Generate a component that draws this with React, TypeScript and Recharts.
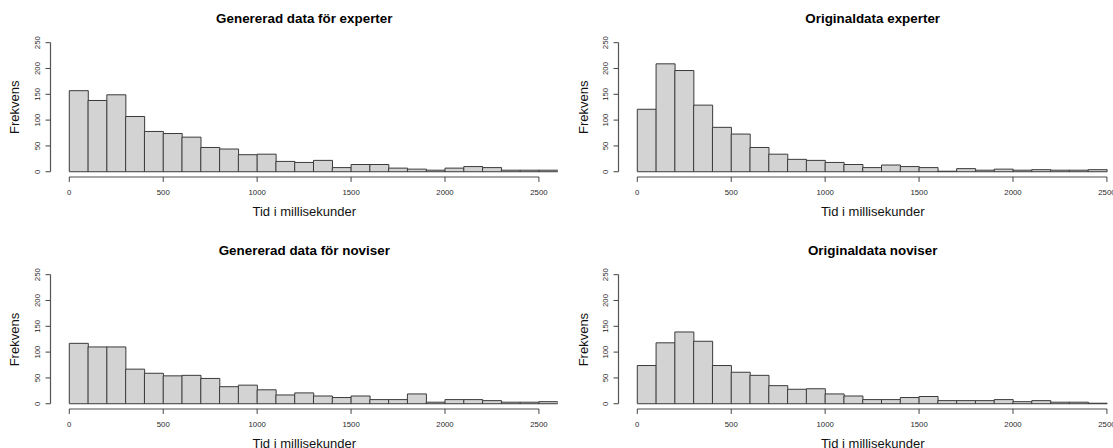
import React from 'react';
import { BarChart, Bar, XAxis, YAxis, ReferenceLine } from 'recharts';

// Histogram bins: left edge of each 100 ms bin
const binStarts = [
  0, 100, 200, 300, 400, 500, 600, 700, 800, 900, 1000, 1100, 1200,
  1300, 1400, 1500, 1600, 1700, 1800, 1900, 2000, 2100, 2200, 2300, 2400, 2500,
];
const binWidth = 100;

const xTicks = [0, 500, 1000, 1500, 2000, 2500];
const yTicks = [0, 50, 100, 150, 200, 250];

// Frequencies per bin
const genExperts = [157, 138, 149, 107, 78, 74, 67, 47, 44, 33, 34, 20, 18, 22, 8, 14, 14, 7, 5, 3, 7, 10, 8, 3, 3, 3];
const origExperts = [121, 209, 196, 129, 86, 73, 47, 34, 24, 22, 18, 14, 8, 13, 10, 8, 1, 6, 3, 5, 3, 4, 3, 3, 4];
const genNovices = [117, 110, 110, 67, 59, 54, 55, 49, 33, 36, 27, 17, 21, 15, 12, 15, 8, 8, 19, 3, 8, 8, 6, 3, 3, 4];
const origNovices = [74, 118, 139, 121, 74, 61, 55, 35, 28, 29, 19, 15, 8, 8, 12, 14, 6, 6, 6, 8, 4, 6, 3, 3, 1];

const titles = [
  'Genererad data för experter',
  'Originaldata experter',
  'Genererad data för noviser',
  'Originaldata noviser',
];
const xLabel = 'Tid i millisekunder';
const yLabel = 'Frekvens';

const FONT = '"Liberation Sans", Arial, Helvetica, sans-serif';
const PANEL_W = 560;
const PANEL_H = 224;
const COL_X = [0, 568.4];
const ROW_Y = [0, 232.3];

const toRows = (counts: number[]) =>
  counts.map((c, i) => ({ mid: binStarts[i] + binWidth / 2, count: c }));

const YTick = (props: any) => {
  const { x, y, payload } = props;
  return (
    <text
      x={x}
      y={y}
      transform={`rotate(-90, ${x}, ${y})`}
      textAnchor="middle"
      fontSize={7.8}
      fill="#2a2a2a"
      fontFamily={FONT}
    >
      {payload.value}
    </text>
  );
};

const XTick = (props: any) => {
  const { x, y, payload } = props;
  return (
    <text x={x} y={y} dy={5.5} textAnchor="middle" fontSize={7.8} fill="#2a2a2a" fontFamily={FONT}>
      {payload.value}
    </text>
  );
};

const Histogram = ({ counts }: { counts: number[] }) => (
  <BarChart
    width={PANEL_W}
    height={PANEL_H}
    data={toRows(counts)}
    margin={{ top: 37.5, right: 2.3, bottom: 17.1, left: 10.5 }}
    barCategoryGap={0}
    barGap={0}
    style={{ fontFamily: FONT }}
  >
    <XAxis
      dataKey="mid"
      type="number"
      domain={[-100, 2600]}
      allowDataOverflow
      ticks={xTicks}
      interval={0}
      height={30}
      axisLine={false}
      tickLine={{ stroke: '#444', strokeWidth: 1 }}
      tickSize={5}
      tickMargin={8}
      tick={<XTick />}
    />
    <YAxis
      type="number"
      domain={[-10, 260]}
      allowDataOverflow
      ticks={yTicks}
      interval={0}
      width={40}
      axisLine={false}
      tickLine={{ stroke: '#444', strokeWidth: 1 }}
      tickSize={5}
      tickMargin={5}
      tick={<YTick />}
    />
    <Bar
      dataKey="count"
      fill="#d3d3d3"
      stroke="#3a3a3a"
      strokeWidth={1}
      isAnimationActive={false}
    />
    <ReferenceLine
      segment={[{ x: -100, y: 0 }, { x: -100, y: 250 }]}
      stroke="#555"
      strokeWidth={1.2}
      ifOverflow="visible"
    />
    <ReferenceLine
      segment={[{ x: 0, y: -10 }, { x: 2500, y: -10 }]}
      stroke="#888"
      strokeWidth={1.5}
      ifOverflow="visible"
    />
  </BarChart>
);

const panels = [
  { counts: genExperts, col: 0, row: 0 },
  { counts: origExperts, col: 1, row: 0 },
  { counts: genNovices, col: 0, row: 1 },
  { counts: origNovices, col: 1, row: 1 },
];

export default function App() {
  return (
    <div
      style={{
        position: 'absolute',
        left: 0,
        top: 0,
        width: 1113,
        height: 448,
        overflow: 'hidden',
        background: '#fff',
      }}
    >
      {panels.map((p, i) => (
        <div
          key={i}
          style={{ position: 'absolute', left: COL_X[p.col], top: ROW_Y[p.row], width: PANEL_W, height: PANEL_H }}
        >
          <Histogram counts={p.counts} />
        </div>
      ))}
      <svg
        width={1113}
        height={448}
        style={{ position: 'absolute', left: 0, top: 0, pointerEvents: 'none' }}
        fontFamily={FONT}
      >
        {panels.map((p, i) => {
          const ox = COL_X[p.col];
          const oy = ROW_Y[p.row];
          return (
            <g key={i}>
              <text x={ox + 304.3} y={oy + 23} textAnchor="middle" fontSize={13.4} fontWeight="bold" fill="#000">
                {titles[i]}
              </text>
              <text x={ox + 304.3} y={oy + 215.7} textAnchor="middle" fontSize={13} fill="#111">
                {xLabel}
              </text>
              <text
                x={ox + 19.5}
                y={oy + 107.3}
                transform={`rotate(-90, ${ox + 19.5}, ${oy + 107.3})`}
                textAnchor="middle"
                fontSize={13}
                fill="#111"
              >
                {yLabel}
              </text>
            </g>
          );
        })}
      </svg>
    </div>
  );
}
